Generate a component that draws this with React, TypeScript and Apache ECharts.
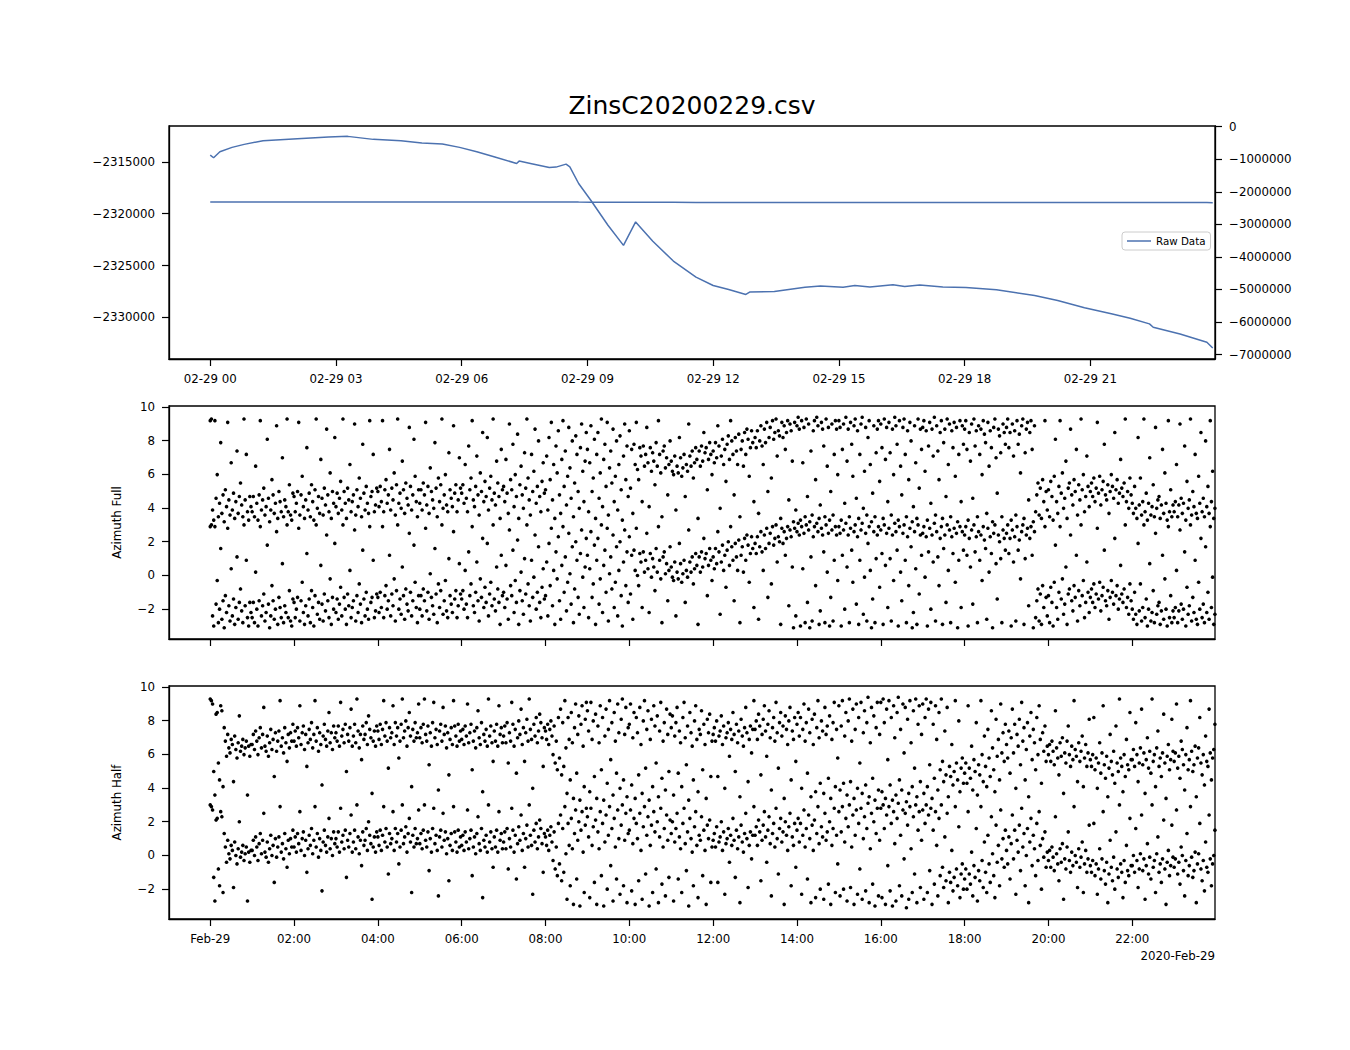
import React, { useEffect, useRef } from "react";
import * as echarts from "echarts";

// ---------- Top panel: raw data (hours since 02-29 00:00, value) ----------
const rawHours = [0.0, 0.08, 0.23, 0.52, 0.81, 1.26, 2.08, 2.82, 3.28, 3.89, 4.55, 5.05, 5.54, 5.95, 6.36, 6.77, 7.31, 7.37, 7.64, 8.09, 8.25, 8.49, 8.58, 8.79, 9.08, 9.49, 9.86, 10.15, 10.56, 11.05, 11.59, 12.0, 12.37, 12.78, 12.87, 13.46, 14.19, 14.56, 15.1, 15.38, 15.74, 16.29, 16.57, 16.93, 17.48, 18.03, 18.76, 19.67, 20.22, 20.86, 21.5, 21.95, 22.41, 22.5, 23.14, 23.78, 23.92];
const rawValues = [-2314356, -2314614, -2314030, -2313615, -2313326, -2312971, -2312778, -2312617, -2312554, -2312843, -2312971, -2313198, -2313294, -2313615, -2314035, -2314518, -2315162, -2314936, -2315162, -2315548, -2315516, -2315227, -2315483, -2317094, -2318704, -2321119, -2323051, -2320797, -2322665, -2324564, -2326110, -2326916, -2327300, -2327782, -2327557, -2327490, -2327077, -2326978, -2327077, -2326916, -2327055, -2326851, -2327010, -2326880, -2327055, -2327109, -2327333, -2327880, -2328365, -2329072, -2329651, -2330071, -2330618, -2330940, -2331584, -2332385, -2332937];

// tick labels
const leftTicks = [-2315000, -2320000, -2325000, -2330000];
const rightTicks = [0, -1000000, -2000000, -3000000, -4000000, -5000000, -6000000, -7000000];
const topXTicks = [0, 3, 6, 9, 12, 15, 18, 21];
const bottomXTicks = [0, 2, 4, 6, 8, 10, 12, 14, 16, 18, 20, 22];
const azTicks = [-2, 0, 2, 4, 6, 8, 10];

// ---------- Azimuth Full: angle samples (rad), one row per hour ----------
const azimuthFull: number[][] = [
  [2.9,3.0,-2.4,-3.0,2.9,-1.7,-0.3,-2.8,-2.0,1.6,-2.6,-1.5,-3.1,-1.2,-2.2,2.8,-1.8,-2.7,0.4,-2.4,-1.4,-2.9,-1.9,1.1,-2.6,-1.6,-0.8,-2.1,-2.8,3.0,-1.8,0.9,-2.5,-3.0,-1.6,-2.2],
  [-2.5,-1.6,-2.8,0.2,-2.0,-3.0,-1.5,2.9,-2.4,-1.8,-1.1,-2.7,-2.2,1.8,-1.7,-3.1,-2.4,-0.6,-1.5,-2.6,-2.0,2.6,-2.9,-1.3,-1.9,-2.5,0.7,-2.8,-1.8,-2.2,3.0,-2.5,-0.9,-2.7,-3.0,-1.4],
  [-1.6,-2.5,-2.0,-1.3,2.8,-2.7,-1.5,-0.4,-2.2,-2.9,-1.8,1.3,-2.4,-1.4,-2.8,-0.9,-1.9,-3.0,-1.2,3.0,-2.3,-1.6,-2.6,0.6,-1.7,-2.7,-1.1,-2.1,2.4,-1.5,-2.5,-0.2,-2.9,-1.3,-2.0,1.9],
  [-2.2,-1.4,-2.6,-1.7,-0.7,-2.4,3.0,-1.3,-2.0,-2.9,-1.1,-1.8,0.3,-2.5,-1.9,-1.5,2.7,-2.7,-1.2,-2.2,-0.5,-1.7,-2.8,1.5,-1.4,-2.4,-1.0,-2.0,-2.6,2.9,-1.6,-1.3,0.9,-2.5,-2.1,-1.1],
  [-1.3,-2.2,-1.0,-1.9,2.9,-2.5,-1.2,-0.6,-2.0,-1.5,1.2,-2.4,-1.1,-1.8,-0.2,-2.7,-0.9,3.0,-2.0,-1.4,-2.3,0.5,-1.2,-2.6,-0.8,-1.7,-2.1,2.5,-1.0,-2.4,-1.5,1.8,-0.4,-1.9,-2.8,-1.2],
  [-2.0,-1.2,-2.4,-0.8,-1.5,2.8,-2.1,-1.0,-2.6,0.1,-1.3,-1.8,-2.3,1.6,-1.1,-2.8,-0.5,-1.9,-0.9,3.0,-2.3,-1.5,-0.3,-2.1,-2.5,1.0,-1.2,-1.7,-2.2,2.6,-1.4,-0.9,-2.5,-1.8,0.7,-1.1],
  [-1.4,-0.9,-2.0,0.3,-1.7,-2.5,1.4,-1.2,-0.5,2.9,-1.8,-2.2,-1.0,0.8,-1.5,-2.7,-0.2,-1.3,2.2,-1.9,-0.7,-1.6,1.9,-2.4,-1.1,-0.4,-1.8,3.0,-1.4,-2.1,0.5,-0.8,-1.6,-2.9,1.2,-1.2],
  [-1.0,-1.9,0.6,-1.4,-2.6,2.7,-0.6,-1.2,1.5,-2.2,-0.3,-1.6,2.1,-2.9,-0.9,0.2,-1.5,-2.3,1.0,-1.1,3.0,-0.5,-1.8,-2.7,0.9,-1.3,-0.1,2.4,-2.0,-1.0,1.7,-1.6,-2.5,-0.7,0.4,-1.4],
  [-1.2,0.8,-2.4,1.9,-0.6,2.8,-1.8,0.3,-2.9,1.4,-0.2,2.3,-1.5,-2.6,0.6,2.9,-1.0,1.1,-2.1,-0.4,2.5,0.1,-1.7,1.7,-2.8,-0.8,2.0,0.9,-1.3,-2.3,1.3,2.7,-0.1,-1.9,0.5,2.2],
  [1.2,-2.5,0.4,2.6,-1.3,-0.5,1.8,-2.9,0.9,2.2,-1.7,-0.2,3.0,-2.2,0.6,1.5,-1.0,2.8,-2.7,0.1,1.1,-0.8,2.4,-1.9,-0.4,1.7,-2.4,0.3,2.0,-1.2,-3.0,0.8,2.7,-0.6,1.4,-1.6],
  [2.3,-1.1,1.2,-2.6,1.5,0.3,2.8,0.0,-0.6,1.3,0.8,-1.9,1.4,0.2,0.9,2.5,0.4,-2.2,1.3,-0.1,1.0,0.5,-0.9,1.6,0.2,2.9,0.9,-0.2,-2.8,1.1,1.4,0.1,0.7,-1.5,0.3,1.7],
  [0.5,-0.1,-0.3,0.8,-2.4,0.2,-0.2,1.9,0.7,-0.4,0.1,0.9,-1.6,0.3,-0.1,2.7,0.8,0.2,1.1,-0.5,0.4,1.3,0.6,-2.9,1.1,0.2,1.4,0.5,2.2,1.0,1.3,-1.2,0.6,1.6,0.9,-0.3],
  [1.1,0.4,1.6,0.7,2.6,1.4,-2.3,0.8,1.8,0.3,1.2,-0.7,1.5,2.0,0.6,2.9,1.7,0.9,-1.5,1.9,1.1,0.3,2.1,-2.8,1.2,1.7,0.2,2.2,0.9,2.4,1.8,-0.4,1.3,2.3,1.6,-1.9],
  [1.9,1.3,2.3,-2.6,1.7,2.6,1.4,0.3,2.4,1.6,2.8,-1.3,1.9,2.5,-0.5,2.9,1.8,2.2,3.0,0.8,2.3,2.0,-2.9,2.8,1.9,2.6,1.2,2.2,2.9,-1.8,2.7,2.3,0.5,-3.1,2.8,-2.4],
  [2.6,3.1,2.4,-3.0,2.9,0.4,2.5,-2.8,3.0,-1.6,2.7,-3.1,1.1,-2.7,2.3,2.9,-0.6,3.1,2.6,-2.9,-2.1,2.8,2.4,1.4,-2.8,3.0,0.2,2.5,-3.0,-1.3,2.7,-2.7,0.9,2.9,2.4,-0.3],
  [2.9,2.5,-3.0,1.2,2.7,-2.0,3.1,0.5,2.4,-2.8,2.8,1.5,-0.4,2.6,3.0,-1.7,2.3,-2.9,0.9,2.7,3.1,-2.3,-0.1,2.5,-2.7,1.9,2.9,0.3,-3.1,-1.4,2.6,-2.8,1.0,2.4,2.9,-0.7],
  [2.7,1.3,-2.9,3.0,0.6,2.5,-1.9,2.8,1.0,-2.7,2.4,-0.3,3.1,2.6,1.5,-3.0,2.9,0.2,-1.5,2.5,3.0,0.9,-2.8,2.3,-0.6,2.8,1.7,-3.1,-2.2,2.6,0.4,-2.9,3.0,-1.1,2.4,1.2],
  [2.5,2.9,-0.1,2.3,-3.0,1.4,2.8,-2.0,2.4,0.8,3.1,-2.7,2.6,1.1,-0.6,2.2,2.9,-2.9,1.6,2.4,-1.6,3.0,0.3,2.7,-2.8,2.3,1.3,2.8,-0.4,2.5,-3.1,0.9,2.9,-1.9,2.6,1.5],
  [2.4,2.9,1.2,-3.0,2.2,0.5,2.7,-1.7,3.0,1.4,2.3,-2.8,2.6,0.9,2.4,-0.3,2.9,2.1,1.6,-2.6,2.8,0.2,2.3,1.3,-3.1,2.5,3.0,0.7,-1.4,2.4,2.0,1.0,-2.8,2.7,2.2,1.5],
  [2.5,3.0,1.3,2.2,-3.0,2.7,0.8,2.3,-2.7,2.9,1.5,2.1,-0.2,2.6,3.0,-2.9,1.0,2.4,2.8,-1.8,2.2,2.9,1.2,-3.1,2.6,-2.5,-1.5,-0.8,-2.7,-1.1,-2.9,-0.6,-1.9,2.9,-1.3,-2.4],
  [-1.2,-2.8,-0.7,-1.6,-3.0,-0.4,1.8,-1.9,-2.6,-1.0,2.9,-1.4,-0.2,-2.3,-1.7,0.5,-2.9,-1.1,-0.8,2.4,-1.5,-2.1,-0.6,-1.3,1.2,-2.7,-0.9,-1.8,3.0,-1.2,-0.3,-2.5,-1.6,0.8,-1.0,-2.2],
  [-1.3,-0.8,-1.6,-0.5,-1.9,-1.1,2.8,-1.4,-0.4,-2.1,-1.2,-0.7,1.5,-1.5,-1.8,-0.9,-2.6,-1.3,-0.3,-1.0,-1.7,2.2,-1.2,-0.6,-2.0,-1.4,0.6,-1.1,-1.6,-0.8,3.0,-1.9,-1.3,-2.3,-0.5,-1.5],
  [-2.0,-2.6,-1.0,-2.3,-2.9,1.9,-2.1,-0.5,-2.7,-1.9,3.0,-2.5,-1.4,-3.0,-2.0,0.7,-2.7,-2.2,-0.9,-2.8,2.5,-2.3,-1.8,-1.6,-2.9,-2.1,1.2,-2.6,-0.2,-2.0,-3.0,2.9,-2.5,-1.2,-2.8,-2.1],
  [-2.5,-1.9,0.3,-2.8,-2.1,2.7,-1.7,-2.6,-2.0,1.4,-3.0,-0.7,-2.3,-1.8,3.0,-2.7,-1.3,-2.2,0.9,-2.6,-2.9,-0.4,-2.0,2.2,-2.5,-1.7,-2.8,1.7,-2.2,-1.0,-2.6,2.9,-1.9,-0.1,-2.9,-2.3],
];

// ---------- Azimuth Half: angle samples (rad), one row per hour ----------
const azimuthHalf: number[][] = [
  [3.0,2.9,2.7,-1.3,-2.7,2.1,2.2,-0.8,-1.8,2.6,2.3,-2.2,1.3,0.5,-0.4,0.9,0.1,-0.2,0.6,0.3,-1.9,0.8,0.0,-0.5,0.4,2.0,-0.1,0.2,0.6,-0.3,0.1,0.5,-2.7,0.2,-0.4,0.3],
  [0.3,0.9,0.0,1.1,0.5,-0.3,0.7,1.3,0.1,0.9,2.5,0.2,-0.1,0.8,-0.4,0.4,1.2,0.0,0.6,-1.6,1.0,-0.1,0.5,1.1,2.9,0.2,0.7,-0.2,1.3,0.4,-0.7,0.9,0.1,1.0,0.5,1.5],
  [0.5,1.1,0.2,1.3,0.7,2.6,0.3,1.0,1.4,0.0,0.9,-1.0,0.4,1.2,0.6,1.6,0.1,0.9,2.9,0.5,1.3,-0.1,1.0,0.3,-2.1,0.8,1.5,0.6,0.2,1.1,2.2,0.4,1.0,0.0,1.4,0.7],
  [1.0,0.5,1.4,0.2,2.8,0.8,1.2,0.4,1.5,-1.3,0.9,0.5,1.3,2.4,0.2,0.8,1.5,0.4,3.0,1.1,0.1,0.9,-0.6,1.4,0.6,0.9,1.6,0.3,2.0,1.2,0.7,-2.6,0.5,1.1,0.2,1.4],
  [1.1,0.6,1.5,0.3,1.2,2.9,0.8,1.6,0.5,-1.1,1.3,0.7,1.0,2.6,0.3,1.6,0.8,1.3,-0.5,0.5,1.5,3.0,0.7,1.1,1.7,0.2,1.3,2.2,0.8,-2.2,1.2,0.5,1.6,0.7,1.0,2.7],
  [0.7,1.3,0.4,1.5,3.0,0.9,0.5,1.4,-0.9,1.0,0.2,1.6,2.8,0.7,1.2,0.3,-2.4,1.1,1.5,0.5,2.5,0.9,1.4,0.1,1.0,-1.5,0.6,1.3,0.3,2.9,1.4,0.8,0.2,1.5,0.5,1.1],
  [0.6,1.2,0.3,1.4,0.8,2.7,0.4,1.0,1.5,-1.2,0.5,1.1,0.1,1.3,2.3,0.7,0.3,1.6,-2.5,0.9,0.5,1.2,0.2,3.0,0.8,1.4,0.4,-0.7,1.1,0.5,1.5,0.2,2.6,0.9,1.3,0.4],
  [0.8,1.4,0.4,1.6,-0.8,1.0,0.5,2.8,1.5,0.2,1.2,-1.4,0.7,1.7,0.9,2.4,0.3,1.3,-0.7,1.0,1.8,0.5,3.0,1.2,0.6,-2.3,1.5,0.8,1.9,0.4,1.1,2.1,1.6,0.7,-1.0,1.3],
  [1.1,0.6,1.5,0.3,1.2,1.7,0.8,-0.3,1.4,-0.8,0.5,-1.2,1.9,-0.5,2.4,-1.5,1.6,-1.0,2.9,0.1,-2.6,1.9,0.6,-1.8,2.2,0.4,-2.9,1.3,2.7,-1.4,0.9,2.0,-3.0,1.5,2.6,0.2,-2.2,1.8,2.8],
  [2.3,1.1,-2.5,2.8,0.6,1.7,-1.6,2.1,-2.9,1.4,0.4,2.6,-1.2,1.9,-3.0,0.8,2.4,-2.0,1.2,2.9,-0.6,1.6,-2.7,2.2,0.5,-1.4,2.7,1.0,-2.3,1.8,3.0,-1.8,0.9,2.5,-2.8,1.3],
  [1.5,2.7,-2.1,0.7,2.2,-2.9,1.9,1.0,-1.5,2.5,0.3,-2.6,1.7,2.9,-1.1,1.2,2.3,-3.0,0.6,1.8,-2.2,2.6,1.4,-0.8,2.0,-2.8,1.1,2.8,-1.7,0.5,1.6,-2.4,2.4,0.9,-1.3,2.1],
  [1.3,2.0,-2.7,0.8,1.6,2.5,-1.4,1.1,0.4,-2.2,1.9,2.8,0.7,-0.9,1.4,-3.0,2.2,1.0,0.2,-1.8,1.7,2.6,0.6,-2.5,1.2,0.9,2.3,-1.2,1.5,0.3,-2.9,1.8,1.0,2.1,-1.6,0.5],
  [0.9,1.3,0.5,1.7,-1.6,0.8,1.1,2.0,0.3,1.4,-2.3,0.7,1.0,1.6,-0.4,1.2,0.6,2.2,0.9,-1.3,1.5,0.4,1.1,-2.8,1.8,0.8,0.2,1.3,2.5,1.0,-1.9,0.6,1.4,-0.2,1.2,2.9],
  [1.2,1.7,0.6,2.1,1.4,-1.5,0.9,1.8,2.6,1.1,-0.4,1.5,2.3,0.7,-2.4,1.3,1.9,0.5,2.8,1.0,-1.1,1.6,2.2,0.8,1.4,-2.9,2.0,1.2,0.3,1.7,2.5,-1.8,1.1,0.6,1.9,-0.7],
  [1.5,2.2,0.8,1.9,-2.3,1.2,2.7,0.5,1.6,-1.4,2.4,1.0,-2.8,1.8,0.3,2.1,-2.5,1.3,2.9,0.7,-2.0,1.7,1.1,-2.6,2.5,0.9,1.4,-1.7,2.0,-2.9,0.6,1.6,2.8,-2.2,1.2,-0.5],
  [2.6,-2.4,1.4,2.9,-2.0,0.8,2.2,-2.7,1.7,3.0,-1.9,0.5,2.4,-2.9,1.2,2.7,-2.3,1.9,-0.8,2.8,-2.6,1.0,2.3,-2.1,1.6,3.1,-2.8,0.4,2.5,-1.7,2.0,-3.0,1.3,2.8,-2.4,0.9],
  [2.8,-2.5,3.0,1.6,-2.9,2.4,-0.6,2.9,-2.1,1.9,-3.0,2.6,0.7,-2.7,2.2,3.1,-1.8,1.2,-2.4,2.7,-0.2,2.5,-3.1,1.8,-2.6,2.9,0.4,-2.2,2.3,-1.1,3.0,-2.8,1.5,2.6,-1.9,0.9],
  [2.7,-2.6,1.9,3.0,-2.2,2.4,-0.9,2.8,-2.9,1.5,-1.7,2.6,0.6,-2.4,2.2,-1.2,3.0,-0.7,-1.9,1.1,-1.5,2.5,-2.8,-1.0,-1.6,0.3,-2.1,-1.3,2.9,-0.8,-1.8,1.7,-2.5,-1.1,-0.5,-2.0],
  [-1.4,-0.8,-2.0,2.6,-1.1,-1.7,0.2,-2.4,-0.6,-1.3,1.6,-2.7,-0.9,-1.5,2.9,-0.3,-1.9,0.8,-1.0,-2.2,1.2,-0.5,-1.6,2.3,0.1,-1.2,-2.5,1.8,-0.4,0.6,-1.8,2.7,-0.2,1.0,-0.7,1.5],
  [0.3,-0.5,1.1,-1.4,0.7,2.4,-0.2,1.5,-2.3,0.9,0.2,1.8,-0.9,2.8,0.5,1.3,-1.8,0.0,1.6,-2.8,0.8,2.2,-0.6,1.2,0.4,-1.2,1.9,-0.3,2.6,0.6,-2.0,1.0,-0.1,1.4,-0.7,0.2],
  [-0.3,0.3,-0.7,0.5,-0.1,-0.9,2.3,0.1,-0.5,-1.5,0.4,-0.4,0.7,-2.6,-0.2,-0.8,0.5,1.4,-0.3,-1.0,0.2,-0.6,2.9,0.0,-0.4,-1.9,0.4,-0.7,-0.1,0.8,-2.2,-0.5,0.3,-1.0,-0.2,1.8],
  [-0.6,-1.0,-0.3,1.9,-1.2,-0.5,-2.3,-0.8,0.4,-1.4,-0.2,2.6,-0.9,-1.7,-0.4,-2.8,-1.1,0.9,-0.7,-1.5,-0.1,-2.0,1.4,-0.8,-1.3,3.0,-0.5,-1.0,-2.5,-0.3,-1.6,0.6,-0.9,-1.2,2.2,-0.6],
  [-0.6,0.0,-1.0,1.6,-0.3,-1.9,-0.8,0.1,2.4,-0.9,-0.2,-2.6,-0.6,0.7,-1.1,-0.1,-1.4,3.0,-0.7,-0.3,-2.2,0.1,1.1,-1.0,-0.5,-1.6,-0.2,2.1,-0.8,-2.9,-0.4,0.3,-1.2,-0.6,1.8,-0.1],
  [-0.7,-0.2,2.7,-1.1,-0.4,-1.7,0.5,0.0,-0.9,-2.4,-0.3,1.3,-1.2,-0.6,2.9,-0.1,-1.3,-0.9,0.2,-2.8,-0.5,0.1,1.9,-0.8,-1.5,-0.3,-2.1,0.8,-0.7,-1.0,2.4,-0.2,-1.8,-0.5,0.0,1.5],
];

// x limits (hours)
const XMIN = -0.984;
const XMAX = 23.974;
const FONT = "DejaVu Sans";
const BLUE = "#4c72b0";

const minus = (v: number) => String(v).replace("-", "\u2212");
const pad2 = (v: number) => (v < 10 ? "0" + v : String(v));

// plot each angle at a and a + 2π, as the original figure does
function toPoints(rows: number[][]) {
  const pts: number[][] = [];
  rows.forEach((row, h) => {
    row.forEach((a, i) => {
      const x = h + i / row.length;
      pts.push([x, a]);
      pts.push([x, a + 2 * Math.PI]);
    });
  });
  return pts;
}

export default function App() {
  const ref = useRef<HTMLDivElement>(null);

  useEffect(() => {
    document.body.style.margin = "0";
    if (!ref.current) return;
    const chart = echarts.init(ref.current, undefined, { renderer: "svg" });

    const axisLine = { show: true, onZero: false, lineStyle: { color: "#000", width: 1.3 } };
    const tickStyle = { color: "#000", width: 1.2 };
    const labelBase = { color: "#000", fontSize: 11.8, fontFamily: FONT };

    const xAxisFor = (grid: number, ticks: number[], fmt: ((v: number) => string) | null) => ({
      type: "value",
      gridIndex: grid,
      min: XMIN,
      max: XMAX,
      axisLine,
      splitLine: { show: false },
      axisTick: { show: true, customValues: ticks, length: 7, lineStyle: tickStyle },
      axisLabel: fmt
        ? { show: true, customValues: ticks, formatter: fmt, margin: 14, ...labelBase }
        : { show: false },
    });

    const rawLine = rawHours.map((h, i) => [h, rawValues[i]]);

    const grids = [
      { left: 169, width: 1046, top: 126, height: 233 },
      { left: 169, width: 1046, top: 406, height: 233 },
      { left: 169, width: 1046, top: 686, height: 233 },
    ].map((g) => ({ ...g, show: true, borderColor: "#000", borderWidth: 1.3, containLabel: false }));

    const option: any = {
      animation: false,
      textStyle: { fontFamily: FONT },
      grid: grids,
      legend: {
        data: ["Raw Data"],
        left: 1122,
        top: 232,
        icon: "rect",
        itemWidth: 24,
        itemHeight: 1.5,
        itemGap: 0,
        padding: [4, 5],
        borderColor: "#cccccc",
        borderWidth: 1,
        borderRadius: 3,
        backgroundColor: "rgba(255,255,255,0.8)",
        textStyle: { color: "#000", fontSize: 10.3, fontFamily: FONT },
        selectedMode: false,
      },
      graphic: [
        {
          type: "text",
          x: 692,
          y: 105,
          style: {
            text: "ZinsC20200229.csv",
            fontSize: 25,
            fontFamily: FONT,
            fill: "#000",
            textAlign: "center",
            textVerticalAlign: "middle",
          },
        },
        {
          type: "text",
          x: 1215,
          y: 956,
          style: {
            text: "2020-Feb-29",
            fontSize: 11.8,
            fontFamily: FONT,
            fill: "#000",
            textAlign: "right",
            textVerticalAlign: "middle",
          },
        },
      ],
      xAxis: [
        xAxisFor(0, topXTicks, (v: number) => "02-29 " + pad2(Math.round(v))),
        xAxisFor(1, bottomXTicks, null),
        xAxisFor(2, bottomXTicks, (v: number) => (Math.round(v) === 0 ? "Feb-29" : pad2(Math.round(v)) + ":00")),
      ],
      yAxis: [
        {
          type: "value",
          gridIndex: 0,
          position: "left",
          min: -2334000,
          max: -2311555,
          axisLine,
          splitLine: { show: false },
          axisTick: { show: true, customValues: leftTicks, length: 7, lineStyle: tickStyle },
          axisLabel: { customValues: leftTicks, formatter: (v: number) => minus(v), margin: 14, ...labelBase },
        },
        {
          type: "value",
          gridIndex: 0,
          position: "right",
          min: -7136000,
          max: 20800,
          axisLine,
          splitLine: { show: false },
          axisTick: { show: true, customValues: rightTicks, length: 7, lineStyle: tickStyle },
          axisLabel: { customValues: rightTicks, formatter: (v: number) => minus(v), margin: 14, ...labelBase },
        },
        {
          type: "value",
          gridIndex: 1,
          position: "left",
          min: -1.2 * Math.PI,
          max: 3.2 * Math.PI,
          name: "Azimuth Full",
          nameLocation: "middle",
          nameGap: 46,
          nameTextStyle: { ...labelBase },
          axisLine,
          splitLine: { show: false },
          axisTick: { show: true, customValues: azTicks, length: 7, lineStyle: tickStyle },
          axisLabel: { customValues: azTicks, formatter: (v: number) => minus(v), margin: 14, ...labelBase },
        },
        {
          type: "value",
          gridIndex: 2,
          position: "left",
          min: -1.2 * Math.PI,
          max: 3.2 * Math.PI,
          name: "Azimuth Half",
          nameLocation: "middle",
          nameGap: 46,
          nameTextStyle: { ...labelBase },
          axisLine,
          splitLine: { show: false },
          axisTick: { show: true, customValues: azTicks, length: 7, lineStyle: tickStyle },
          axisLabel: { customValues: azTicks, formatter: (v: number) => minus(v), margin: 14, ...labelBase },
        },
      ],
      series: [
        {
          name: "Raw Data",
          type: "line",
          xAxisIndex: 0,
          yAxisIndex: 0,
          data: rawLine,
          symbol: "none",
          showSymbol: false,
          lineStyle: { color: BLUE, width: 1.5 },
          itemStyle: { color: BLUE },
          silent: true,
        },
        {
          name: "Raw Data (right axis)",
          type: "line",
          xAxisIndex: 0,
          yAxisIndex: 1,
          data: rawLine,
          symbol: "none",
          showSymbol: false,
          lineStyle: { color: BLUE, width: 1.5 },
          itemStyle: { color: BLUE },
          silent: true,
        },
        {
          name: "Azimuth Full",
          type: "scatter",
          xAxisIndex: 1,
          yAxisIndex: 2,
          data: toPoints(azimuthFull),
          symbolSize: 3.6,
          itemStyle: { color: "#000", opacity: 1 },
          silent: true,
        },
        {
          name: "Azimuth Half",
          type: "scatter",
          xAxisIndex: 2,
          yAxisIndex: 3,
          data: toPoints(azimuthHalf),
          symbolSize: 3.6,
          itemStyle: { color: "#000", opacity: 1 },
          silent: true,
        },
      ],
    };

    chart.setOption(option);
    return () => chart.dispose();
  }, []);

  return <div ref={ref} style={{ width: 1350, height: 1050, background: "#fff" }} />;
}
